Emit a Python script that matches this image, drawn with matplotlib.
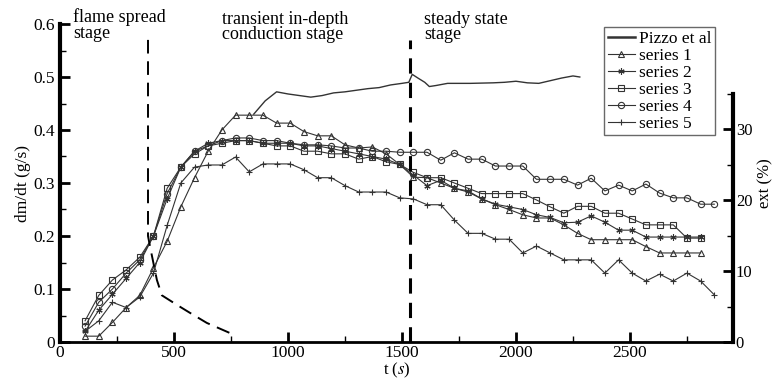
import numpy as np
import matplotlib.pyplot as plt
from matplotlib.ticker import MultipleLocator

plt.rcParams['font.family'] = ['Liberation Serif', 'DejaVu Serif']
plt.rcParams['mathtext.fontset'] = 'stix'

# Du lieu doc tu hinh
t_pizzo = [850, 900, 950, 1000, 1050, 1100, 1150, 1200, 1250, 1300, 1350, 1400, 1450, 1500,
           1530, 1545, 1570, 1600, 1620, 1650, 1700, 1800, 1900, 1950, 2000, 2050, 2100,
           2150, 2200, 2250, 2280]
y_pizzo = [0.43, 0.455, 0.472, 0.468, 0.465, 0.462, 0.465, 0.47, 0.472, 0.475, 0.478, 0.48,
           0.485, 0.488, 0.49, 0.505, 0.498, 0.49, 0.482, 0.484, 0.488, 0.488, 0.489, 0.49,
           0.492, 0.489, 0.488, 0.493, 0.498, 0.502, 0.5]

t_s = [110, 170, 230, 290, 350, 410, 470, 530, 590, 650, 710, 770, 830, 890, 950, 1010,
       1070, 1130, 1190, 1250, 1310, 1370, 1430, 1490, 1550, 1610, 1670, 1730, 1790, 1850,
       1910, 1970, 2030, 2090, 2150, 2210, 2270, 2330, 2390, 2450, 2510, 2570, 2630, 2690,
       2750, 2810, 2870]

series1 = [0.011, 0.011, 0.037, 0.065, 0.088, 0.14, 0.19, 0.255, 0.31, 0.36, 0.40, 0.428,
           0.428, 0.428, 0.413, 0.413, 0.397, 0.389, 0.389, 0.372, 0.366, 0.368, 0.355, 0.335,
           0.311, 0.31, 0.30, 0.29, 0.283, 0.27, 0.259, 0.25, 0.24, 0.234, 0.234, 0.221, 0.205,
           0.193, 0.193, 0.193, 0.193, 0.18, 0.168, 0.168, 0.168, 0.168]
series2 = [0.02, 0.06, 0.09, 0.12, 0.15, 0.2, 0.27, 0.33, 0.36, 0.375, 0.38, 0.38, 0.38,
           0.375, 0.375, 0.375, 0.37, 0.37, 0.365, 0.36, 0.355, 0.35, 0.345, 0.335, 0.315,
           0.295, 0.305, 0.29, 0.285, 0.27, 0.26, 0.255, 0.25, 0.24, 0.235, 0.225, 0.226,
           0.238, 0.226, 0.211, 0.211, 0.198, 0.198, 0.198, 0.198, 0.198]
series3 = [0.04, 0.088, 0.117, 0.136, 0.16, 0.2, 0.29, 0.33, 0.355, 0.37, 0.375, 0.38, 0.38,
           0.375, 0.37, 0.37, 0.36, 0.36, 0.355, 0.355, 0.345, 0.35, 0.34, 0.335, 0.32, 0.31,
           0.31, 0.3, 0.29, 0.28, 0.28, 0.28, 0.28, 0.268, 0.255, 0.243, 0.256, 0.256, 0.243,
           0.243, 0.232, 0.221, 0.221, 0.221, 0.196, 0.196]
series4 = [0.03, 0.075, 0.1, 0.13, 0.155, 0.2, 0.28, 0.33, 0.36, 0.37, 0.38, 0.385, 0.385,
           0.38, 0.38, 0.375, 0.372, 0.372, 0.37, 0.366, 0.366, 0.36, 0.36, 0.358, 0.358,
           0.358, 0.343, 0.357, 0.345, 0.345, 0.332, 0.332, 0.332, 0.307, 0.307, 0.307,
           0.296, 0.309, 0.285, 0.296, 0.285, 0.298, 0.281, 0.272, 0.272, 0.26, 0.26]
series5 = [0.02, 0.04, 0.075, 0.065, 0.085, 0.13, 0.22, 0.3, 0.33, 0.334, 0.334, 0.349,
           0.321, 0.336, 0.336, 0.336, 0.325, 0.31, 0.31, 0.295, 0.283, 0.283, 0.283, 0.272,
           0.27, 0.259, 0.259, 0.23, 0.205, 0.205, 0.194, 0.194, 0.168, 0.181, 0.168, 0.155,
           0.155, 0.155, 0.13, 0.155, 0.13, 0.115, 0.128, 0.115, 0.13, 0.115, 0.089]

# duong ranh gioi giai doan lan truyen ngon lua
t_flame = [386, 386, 395, 425, 447, 513, 570, 644, 745]
y_flame = [0.57, 0.2, 0.18, 0.117, 0.088, 0.07, 0.055, 0.036, 0.017]
t_steady = 1535

fig = plt.figure(figsize=(7.75, 3.8), dpi=100)
ax = fig.add_axes([60 / 775, 1 - 342 / 380, 673 / 775, 318 / 380])

c = '#333333'
ax.plot(t_pizzo, y_pizzo, color=c, lw=1.0, label='Pizzo et al')
styles = [('^', 'series 1', series1), ((6, 2, 0), 'series 2', series2),
          ('s', 'series 3', series3), ('o', 'series 4', series4), ('+', 'series 5', series5)]
for mk, name, ys in styles:
    ax.plot(t_s[:len(ys)], ys, color=c, lw=0.8, marker=mk, ms=4.5, mfc='none',
            mec=c, mew=0.8, label=name)

ax.plot(t_flame, y_flame, color='black', lw=1.4, ls=(0, (7, 4)))
ax.plot([t_steady, t_steady], [0, 0.57], color='black', lw=2.2, ls=(0, (5, 3)))

ax.set_xlim(0, 2952)
ax.set_ylim(0, 0.6)
ax.xaxis.set_major_locator(MultipleLocator(500))
ax.xaxis.set_minor_locator(MultipleLocator(250))
ax.yaxis.set_minor_locator(MultipleLocator(0.05))
ax.set_yticks(np.arange(0, 0.61, 0.1))
ax.set_yticklabels(['0', '0.1', '0.2', '0.3', '0.4', '0.5', '0.6'])
ax.tick_params(which='major', direction='in', length=7, width=2, labelsize=12.5)
ax.tick_params(axis='x', which='major', pad=2)
ax.tick_params(which='minor', direction='in', length=4, width=1)
ax.spines['top'].set_visible(False)
ax.spines['right'].set_visible(False)
ax.spines['left'].set_linewidth(3)
ax.spines['bottom'].set_linewidth(2)
ax.set_ylabel('dm/dt (g/s)', fontsize=12.5, labelpad=2)
ax.set_xlabel('t ($s$)', fontsize=12, labelpad=0)

# truc phai: ext (%)
ax2 = ax.twinx()
ax2.set_ylim(0, 318 / 71 * 10)
ax2.spines['right'].set_bounds(0, 35)
ax2.spines['right'].set_linewidth(3)
for s in ['top', 'left', 'bottom']:
    ax2.spines[s].set_visible(False)
ax2.set_yticks([0, 10, 20, 30])
ax2.set_yticks([5, 15, 25, 35], minor=True)
ax2.tick_params(which='major', direction='in', length=7, width=2, labelsize=12, pad=2)
ax2.tick_params(which='minor', direction='in', length=4, width=1)
fig.text(0.988, 1 - 183 / 380, 'ext (%)', rotation=90, ha='center', va='center',
         fontsize=12)

# chu thich giai doan
kw = dict(fontsize=13, va='top', ha='left', linespacing=0.9, clip_on=False)
ax.text(57, 0.63, 'flame spread\nstage', **kw)
ax.text(710, 0.625, 'transient in-depth\nconduction stage', **kw)
ax.text(1596, 0.625, 'steady state\nstage', **kw)

leg = ax.legend(loc='upper right', bbox_to_anchor=(0.973, 0.99), fontsize=12.5,
                frameon=True, fancybox=False, edgecolor='#444444', handlelength=1.6,
                handletextpad=0.2, borderpad=0.2, labelspacing=0.05, borderaxespad=0)
leg.get_frame().set_linewidth(1.0)
leg.get_lines()[0].set_linewidth(1.8)

fig.savefig('out.png', dpi=100)
